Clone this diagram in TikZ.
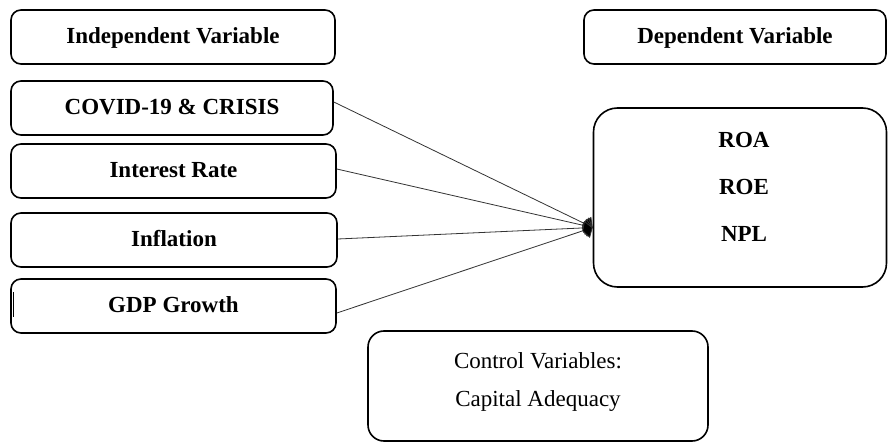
\documentclass[tikz,border=0pt]{standalone}
\usepackage{fontspec}
\setmainfont{Liberation Serif}
\usetikzlibrary{arrows.meta}
\tikzset{
  boxbase/.style={draw=black, line width=1.6pt, inner sep=0pt},
  varbox/.style={boxbase, rounded corners=10pt, minimum height=54pt,
    font=\fontsize{23}{27}\selectfont\bfseries, text height=16pt, text depth=3.4pt},
  bigbox/.style={boxbase, rounded corners=24pt},
  ctrlbox/.style={boxbase, rounded corners=16pt},
  lbl/.style={inner sep=0pt, anchor=base, font=\fontsize{23}{27}\selectfont},
  blbl/.style={lbl, font=\fontsize{23}{27}\selectfont\bfseries},
  conn/.style={draw=black!80, line width=0.8pt, -{Kite[length=11pt,width=18pt,inset=5pt,fill=black]}}
}
\begin{document}
\begin{tikzpicture}[x=1pt,y=-1pt]
\useasboundingbox[fill=white] (0,0) rectangle (888,443);
% left column
\node[varbox, minimum width=324pt] (ind) at (173,37) {Independent Variable};
\node[varbox, minimum width=322pt] (cov) at (172,108) {COVID-19 \& CRISIS};
\node[varbox, minimum width=325pt] (int) at (173.5,171) {Interest Rate};
\node[varbox, minimum width=326pt] (inf) at (174,240) {Inflation};
\node[varbox, minimum width=325pt] (gdp) at (173.5,306) {GDP Growth};
% right column
\node[varbox, minimum width=302pt] (dep) at (735,37) {Dependent Variable};
\node[bigbox, minimum width=293pt, minimum height=179pt] (dv) at (740,197.5) {};
\node[blbl] (roa) at (744,148) {ROA};
\node[blbl] (roe) at (744,195) {ROE};
\node[blbl] (npl) at (744,242) {NPL};
% control
\node[ctrlbox, minimum width=340pt, minimum height=110pt] (ctrl) at (538,386) {};
\node[lbl] (ctrlA) at (538,368) {Control Variables:};
\node[lbl] (ctrlB) at (538,406) {Capital Adequacy};
% connectors
\coordinate (tgt) at ([yshift=-30pt]dv.west);
\draw[conn] ([yshift=6pt]cov.east) -- (tgt);
\draw[conn] ([yshift=2pt]int.east) -- (tgt);
\draw[conn] ([yshift=1pt]inf.east) -- (tgt);
\draw[conn] ([yshift=-7pt]gdp.east) -- (tgt);
% small mark inside GDP box
\draw[line width=0.9pt] ([shift={(3,-14)}]gdp.west) -- ([shift={(3,11)}]gdp.west);
\end{tikzpicture}
\end{document}
